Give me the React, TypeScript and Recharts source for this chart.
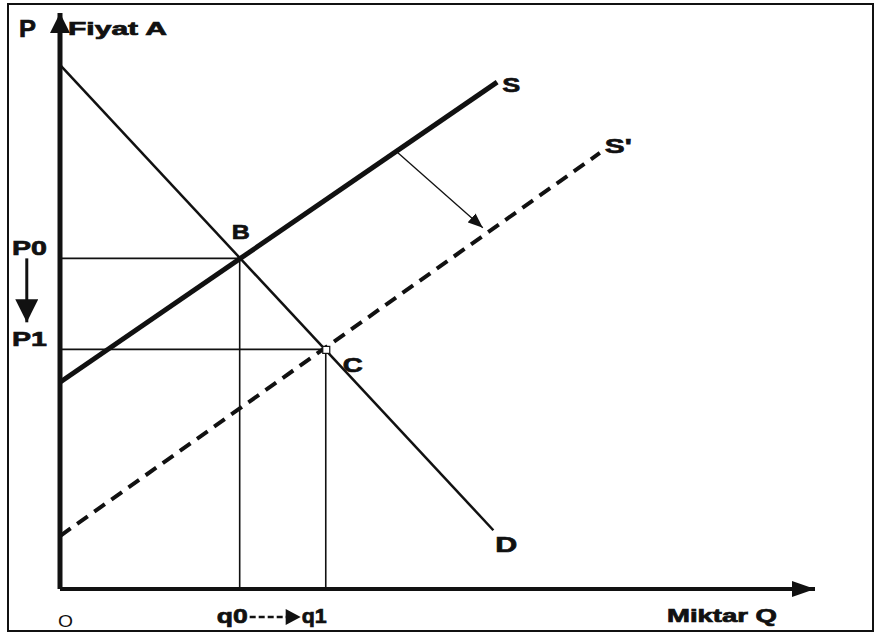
import { LineChart, Line, XAxis, YAxis, ReferenceLine, ReferenceDot } from "recharts";

// quantity / price scale: both axes run 0..100
const qTicks = [0, 23.8, 35.2];
const qTickLabels = ["O", "q0", "q1"];
const pTicks = [41.6, 57.4];
const pTickLabels = ["P1", "P0"];

const demandD = [
  { q: 0, p: 91.0 },
  { q: 57.4, p: 10.2 },
];
const supplyS = [
  { q: 0, p: 35.9 },
  { q: 57.9, p: 88.0 },
];
const supplyS2 = [
  { q: 0, p: 9.2 },
  { q: 71.5, p: 75.7 },
];
const eqB = { q: 23.8, p: 57.4 };
const eqC = { q: 35.2, p: 41.6 };
const shiftArrow = [
  { q: 44.6, p: 75.9 },
  { q: 56.0, p: 62.7 },
];

const FONT = "'Liberation Sans', Arial, sans-serif";
const INK = "#111";

const T = ({ x, y, w, size = 20, bold = true, children }: any) => (
  <text
    x={x}
    y={y}
    fontFamily={FONT}
    fontSize={size}
    fontWeight={bold ? 700 : 400}
    fill={INK}
    stroke={bold ? INK : "none"}
    strokeWidth={bold ? 0.7 : 0}
    textLength={w}
    lengthAdjust={w ? "spacingAndGlyphs" : undefined}
  >
    {children}
  </text>
);

const Marker = ({ id, len, wid }: { id: string; len: number; wid: number }) => (
  <marker
    id={id}
    markerUnits="userSpaceOnUse"
    markerWidth={len}
    markerHeight={wid}
    viewBox={`0 0 ${len} ${wid}`}
    refX={len}
    refY={wid / 2}
    orient="auto"
  >
    <path d={`M0,0 L${len},${wid / 2} L0,${wid} Z`} fill={INK} />
  </marker>
);

const QTick = (props: any) => {
  const { x, y, payload } = props;
  const label = qTickLabels[qTicks.indexOf(payload.value)];
  if (label === "O") {
    return <T x={x - 2} y={y + 38} w={15} size={16} bold={false}>{label}</T>;
  }
  if (label === "q0") {
    return (
      <g>
        <T x={x - 23} y={y + 34} w={31} size={21}>{label}</T>
        <line x1={x + 10} y1={y + 28} x2={x + 49} y2={y + 28} stroke={INK} strokeWidth={2.5} strokeDasharray="6 3" />
        <path d={`M${x + 46},${y + 20} L${x + 61},${y + 28} L${x + 46},${y + 36} Z`} fill={INK} />
      </g>
    );
  }
  return <T x={x - 24} y={y + 34} w={25} size={21}>{label}</T>;
};

const PTick = (props: any) => {
  const { x, y, payload } = props;
  const label = pTickLabels[pTicks.indexOf(payload.value)];
  return <T x={x - 48} y={y - 3} w={35} size={21}>{label}</T>;
};

const pointLabel = (text: string, dx: number, dy: number, w: number, size = 21) => (p: any) =>
  <T x={p.cx + dx} y={p.cy + dy} w={w} size={size}>{text}</T>;

export default function App() {
  return (
    <div style={{ position: "absolute", left: 0, top: 0, width: 877, height: 638, background: "#fff" }}>
      <svg width={0} height={0} style={{ position: "absolute" }}>
        <defs>
          <Marker id="arrY" len={20} wid={20} />
          <Marker id="arrX" len={23} wid={16} />
          <Marker id="arrShift" len={15} wid={12} />
          <Marker id="arrP" len={23} wid={23} />
        </defs>
      </svg>
      <div
        style={{
          position: "absolute",
          left: 7,
          top: 3,
          width: 867,
          height: 629,
          border: `2px solid ${INK}`,
          boxSizing: "border-box",
        }}
      />
      <LineChart width={877} height={638} margin={{ top: 13, right: 62, left: 0, bottom: 0 }}>
        <XAxis
          type="number"
          dataKey="q"
          domain={[0, 100]}
          ticks={qTicks}
          interval={0}
          height={49}
          axisLine={false}
          tickLine={false}
          tickSize={0}
          tickMargin={0}
          tick={<QTick />}
          label={{
            content: (lp: any) => (
              <T x={667} y={lp.viewBox.y + 33} w={110} size={18}>Miktar Q</T>
            ),
          }}
        />
        <YAxis
          type="number"
          dataKey="p"
          domain={[0, 100]}
          ticks={pTicks}
          interval={0}
          width={60}
          axisLine={false}
          tickLine={false}
          tickSize={0}
          tickMargin={0}
          tick={<PTick />}
        />

        {/* guide lines to the axes */}
        <ReferenceLine segment={[{ x: 0, y: eqB.p }, { x: eqB.q, y: eqB.p }]} stroke={INK} strokeWidth={1.6} />
        <ReferenceLine segment={[{ x: 0, y: eqC.p }, { x: eqC.q, y: eqC.p }]} stroke={INK} strokeWidth={1.6} />
        <ReferenceLine segment={[{ x: eqB.q, y: 0 }, { x: eqB.q, y: eqB.p }]} stroke={INK} strokeWidth={1.6} />
        <ReferenceLine segment={[{ x: eqC.q, y: 0 }, { x: eqC.q, y: eqC.p }]} stroke={INK} strokeWidth={1.6} />

        <Line data={demandD} dataKey="p" stroke={INK} strokeWidth={2.5} dot={false} isAnimationActive={false} />
        <Line data={supplyS} dataKey="p" stroke={INK} strokeWidth={5} dot={false} isAnimationActive={false} />
        <Line
          data={supplyS2}
          dataKey="p"
          stroke={INK}
          strokeWidth={4}
          strokeDasharray="13 8"
          dot={false}
          isAnimationActive={false}
        />
        <Line
          data={shiftArrow}
          dataKey="p"
          stroke={INK}
          strokeWidth={1.3}
          dot={false}
          markerEnd="url(#arrShift)"
          isAnimationActive={false}
        />

        {/* axes with arrowheads */}
        <ReferenceLine
          segment={[{ x: 0, y: 0 }, { x: 0, y: 100 }]}
          stroke={INK}
          strokeWidth={5}
          markerEnd="url(#arrY)"
          ifOverflow="visible"
        />
        <ReferenceLine
          segment={[{ x: 0, y: 0 }, { x: 100, y: 0 }]}
          stroke={INK}
          strokeWidth={4}
          markerEnd="url(#arrX)"
          ifOverflow="visible"
        />
        {/* price drop P0 -> P1 */}
        <ReferenceLine
          segment={[{ x: -4.4, y: eqB.p }, { x: -4.4, y: eqC.p + 4.7 }]}
          stroke={INK}
          strokeWidth={3}
          markerEnd="url(#arrP)"
          ifOverflow="visible"
        />

        {/* price axis title at the top of the axis */}
        <ReferenceDot
          x={0}
          y={100}
          r={0}
          ifOverflow="visible"
          shape={(p: any) => (
            <g>
              <T x={p.cx - 41} y={p.cy + 24} w={17} size={24}>P</T>
              <T x={p.cx + 8} y={p.cy + 22} w={99} size={18}>Fiyat A</T>
            </g>
          )}
        />

        <ReferenceDot
          x={eqC.q}
          y={eqC.p}
          r={0}
          ifOverflow="visible"
          shape={(p: any) => (
            <rect x={p.cx - 3} y={p.cy - 3} width={7} height={7} fill="#fff" stroke={INK} strokeWidth={1.2} />
          )}
        />
        <ReferenceDot x={eqB.q} y={eqB.p} r={0} ifOverflow="visible" shape={pointLabel("B", -8, -19, 18)} />
        <ReferenceDot x={eqC.q} y={eqC.p} r={0} ifOverflow="visible" shape={pointLabel("C", 17, 23, 20)} />
        <ReferenceDot x={supplyS[1].q} y={supplyS[1].p} r={0} ifOverflow="visible" shape={pointLabel("S", 5, 10, 18)} />
        <ReferenceDot x={supplyS2[1].q} y={supplyS2[1].p} r={0} ifOverflow="visible" shape={pointLabel("S'", 5, 0, 27)} />
        <ReferenceDot x={demandD[1].q} y={demandD[1].p} r={0} ifOverflow="visible" shape={pointLabel("D", 2, 22, 22, 22)} />
      </LineChart>
    </div>
  );
}
